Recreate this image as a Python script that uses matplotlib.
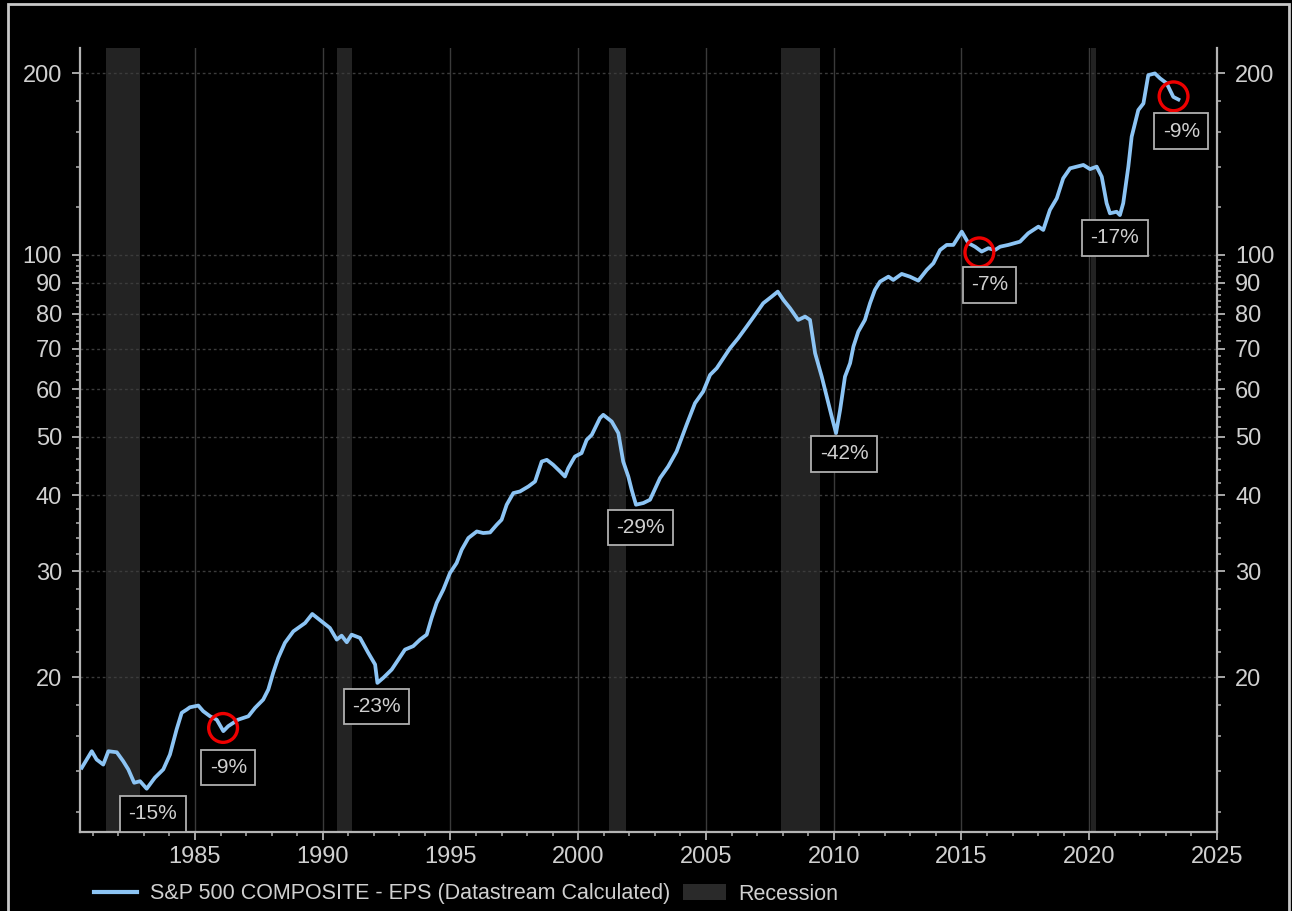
import matplotlib
matplotlib.use("Agg")
import matplotlib.pyplot as plt
from matplotlib.lines import Line2D
from matplotlib.patches import Patch, Rectangle

plt.rcParams['font.family'] = ['Liberation Sans', 'DejaVu Sans']

# S&P 500 EPS (decimal year, value)
years = [1980.57, 1980.96, 1981.15, 1981.41, 1981.61, 1981.94, 1982.19, 1982.39, 1982.62, 1982.85,
         1983.11, 1983.43, 1983.76, 1984.02, 1984.28, 1984.48, 1984.68, 1984.80, 1985.13, 1985.32,
         1985.59, 1985.85, 1986.11, 1986.30, 1986.69, 1987.09, 1987.35, 1987.67, 1987.87, 1988.06,
         1988.26, 1988.52, 1988.85, 1989.31, 1989.59, 1989.96, 1990.28, 1990.55, 1990.74, 1990.94,
         1991.13, 1991.46, 1991.78, 1992.05, 1992.14, 1992.37, 1992.70, 1992.96, 1993.22, 1993.54,
         1993.81, 1994.07, 1994.26, 1994.46, 1994.72, 1994.98, 1995.24, 1995.44, 1995.70, 1996.03,
         1996.28, 1996.55, 1996.81, 1997.00, 1997.20, 1997.46, 1997.72, 1998.05, 1998.31, 1998.57,
         1998.77, 1999.02, 1999.29, 1999.48, 1999.61, 1999.87, 2000.13, 2000.33, 2000.53, 2000.85,
         2000.98, 2001.31, 2001.57, 2001.76, 2001.96, 2002.09, 2002.26, 2002.55, 2002.81, 2003.20,
         2003.52, 2003.85, 2004.24, 2004.57, 2004.89, 2005.16, 2005.42, 2005.68, 2005.94, 2006.26,
         2006.59, 2006.92, 2007.24, 2007.57, 2007.81, 2008.03, 2008.29, 2008.61, 2008.88, 2009.07,
         2009.27, 2009.53, 2009.79, 2009.92, 2010.09, 2010.25, 2010.44, 2010.64, 2010.77, 2010.96,
         2011.22, 2011.42, 2011.61, 2011.81, 2012.14, 2012.33, 2012.66, 2012.98, 2013.31, 2013.64,
         2013.90, 2014.16, 2014.42, 2014.68, 2015.01, 2015.27, 2015.53, 2015.79, 2016.05, 2016.31,
         2016.51, 2016.83, 2017.29, 2017.61, 2018.01, 2018.20, 2018.46, 2018.73, 2018.98, 2019.25,
         2019.77, 2020.03, 2020.29, 2020.49, 2020.68, 2020.81, 2021.07, 2021.20, 2021.33, 2021.53,
         2021.66, 2021.79, 2021.92, 2022.12, 2022.31, 2022.57, 2022.77, 2023.03, 2023.29, 2023.49]
eps = [14.18, 15.10, 14.63, 14.35, 15.10, 15.04, 14.54, 14.09, 13.39, 13.47,
       13.09, 13.65, 14.09, 14.91, 16.40, 17.48, 17.70, 17.85, 17.97, 17.59,
       17.25, 17.03, 16.30, 16.61, 17.03, 17.25, 17.81, 18.38, 19.10, 20.35,
       21.55, 22.82, 23.84, 24.61, 25.47, 24.76, 24.15, 23.10, 23.45, 22.87,
       23.54, 23.25, 21.97, 21.01, 19.59, 19.97, 20.61, 21.41, 22.24, 22.53,
       23.10, 23.54, 25.08, 26.57, 27.95, 29.77, 30.93, 32.54, 34.02, 34.88,
       34.67, 34.75, 35.78, 36.47, 38.62, 40.37, 40.62, 41.40, 42.19, 45.52,
       45.82, 44.96, 43.83, 43.00, 44.40, 46.40, 47.01, 49.44, 50.40, 53.72,
       54.39, 53.02, 50.73, 45.52, 43.00, 40.89, 38.62, 38.87, 39.36, 42.74,
       44.67, 47.31, 52.36, 56.87, 59.43, 63.33, 64.96, 67.49, 70.10, 72.83,
       76.11, 79.60, 83.21, 85.33, 86.97, 84.26, 81.64, 78.08, 79.07, 78.08,
       68.79, 62.91, 56.87, 54.05, 50.73, 55.45, 62.91, 66.22, 70.55, 74.67,
       78.08, 83.21, 87.52, 90.34, 92.07, 90.92, 93.03, 92.07, 90.68, 94.45,
       96.89, 101.9, 103.9, 103.9, 109.3, 104.6, 103.2, 101.3, 102.6, 101.9,
       103.2, 103.9, 105.2, 108.6, 111.4, 110.0, 118.7, 124.1, 133.9, 139.1,
       140.9, 138.7, 140.0, 134.7, 121.8, 117.2, 117.9, 116.4, 121.8, 140.0,
       156.9, 165.1, 173.7, 178.1, 198.4, 199.7, 196.0, 192.3, 182.6, 180.8]

recession_start = [1981.50, 1990.55, 2001.20, 2007.95, 2020.05]
recession_end = [1982.85, 1991.15, 2001.85, 2009.45, 2020.25]

drop_labels = ["-15%", "-9%", "-23%", "-29%", "-42%", "-7%", "-17%", "-9%"]
drop_years = [1983.35, 1986.30, 1992.10, 2002.45, 2010.40, 2016.10, 2021.00, 2023.60]
drop_values = [11.9, 14.2, 17.9, 35.4, 46.9, 89.2, 106.7, 160.3]

circle_years = [1986.10, 2015.70, 2023.30]
circle_values = [16.5, 101.0, 183.0]

y_major = [20, 30, 40, 50, 60, 70, 80, 90, 100, 200]
y_minor = [12, 14, 16, 18, 22, 24, 26, 28, 32, 34, 36, 38, 42, 44, 46, 48,
           52, 54, 56, 58, 62, 64, 66, 68, 72, 74, 76, 78, 82, 84, 86, 88,
           92, 94, 96, 98, 120, 140, 160, 180]
x_major = [1985, 1990, 1995, 2000, 2005, 2010, 2015, 2020, 2025]
x_minor = list(range(1981, 2025))

LINE = '#8cc4f4'
TXT = '#d0d0d0'
AXC = '#b4b4b4'

W, H = 1292, 911
fig = plt.figure(figsize=(W / 100, H / 100), dpi=100, facecolor='black')
ax = fig.add_axes([80 / W, 1 - 832 / H, (1217 - 80) / W, (832 - 48) / H])
ax.set_facecolor('black')

for s, e in zip(recession_start, recession_end):
    ax.axvspan(s, e, color='#232323', lw=0, zorder=0)

for xv in x_major[:-1]:
    ax.axvline(xv, color='#3a3a3a', lw=1, zorder=1)
for yv in y_major:
    ax.axhline(yv, color='#3c3c3c', lw=1, ls=(0, (2, 2)), zorder=1)

ax.plot(years, eps, color=LINE, lw=2.7, zorder=3, solid_joinstyle='round')

ax.scatter(circle_years, circle_values, s=430, facecolors='none', edgecolors='#ee0000',
           linewidths=2.4, zorder=4)

for lab, xv, yv in zip(drop_labels, drop_years, drop_values):
    ax.text(xv, yv, lab, ha='center', va='center', fontsize=15, color=TXT, zorder=5,
            bbox=dict(boxstyle='square,pad=0.4', fc='black', ec='#b0b0b0', lw=1.3))

ax.set_yscale('log')
ax.set_xlim(1980.5, 2025)
ax.set_ylim(11.1, 220)

ax.set_xticks(x_major)
ax.set_xticks(x_minor, minor=True)
ax.set_xticklabels([str(v) for v in x_major])
ax.set_yticks(y_major)
ax.set_yticklabels([str(v) for v in y_major])
ax.set_yticks(y_minor, minor=True)
ax.set_yticklabels([], minor=True)

for side in ['top', 'right']:
    ax.spines[side].set_visible(False)
for side in ['left', 'bottom']:
    ax.spines[side].set_color(AXC)
    ax.spines[side].set_linewidth(1.6)

ax.tick_params(axis='both', which='major', length=6, width=1.3, color=AXC,
               labelcolor=TXT, labelsize=17)
ax.tick_params(axis='both', which='minor', length=3, width=1.1, color=AXC)
ax.tick_params(axis='y', which='major', pad=7)
ax.tick_params(axis='x', which='major', pad=4)

ax2 = ax.twinx()
ax2.set_yscale('log')
ax2.set_ylim(ax.get_ylim())
ax2.set_yticks(y_major)
ax2.set_yticklabels([str(v) for v in y_major])
ax2.set_yticks(y_minor, minor=True)
ax2.set_yticklabels([], minor=True)
for side in ['top', 'left', 'bottom']:
    ax2.spines[side].set_visible(False)
ax2.spines['right'].set_color(AXC)
ax2.spines['right'].set_linewidth(1.6)
ax2.tick_params(axis='y', which='major', length=6, width=1.3, color=AXC,
                labelcolor=TXT, labelsize=17, pad=7)
ax2.tick_params(axis='y', which='minor', length=3, width=1.1, color=AXC)

handles = [Line2D([], [], color=LINE, lw=3),
           Patch(facecolor='#2a2a2a', edgecolor='none')]
fig.legend(handles, ['S&P 500 COMPOSITE - EPS (Datastream Calculated)', 'Recession'],
           loc='center left', bbox_to_anchor=(85 / W, 1 - 894 / H), ncol=2,
           frameon=False, fontsize=15.5, labelcolor=TXT, handlelength=2.0,
           handletextpad=0.6, columnspacing=0.6, borderaxespad=0)

fig.patches.append(Rectangle((8 / W, -0.01), (1289 - 8) / W, 1.01 - 4 / H,
                             transform=fig.transFigure, fill=False,
                             edgecolor='#c8c8c8', lw=2))

fig.savefig('out.png', dpi=100, facecolor='black')
